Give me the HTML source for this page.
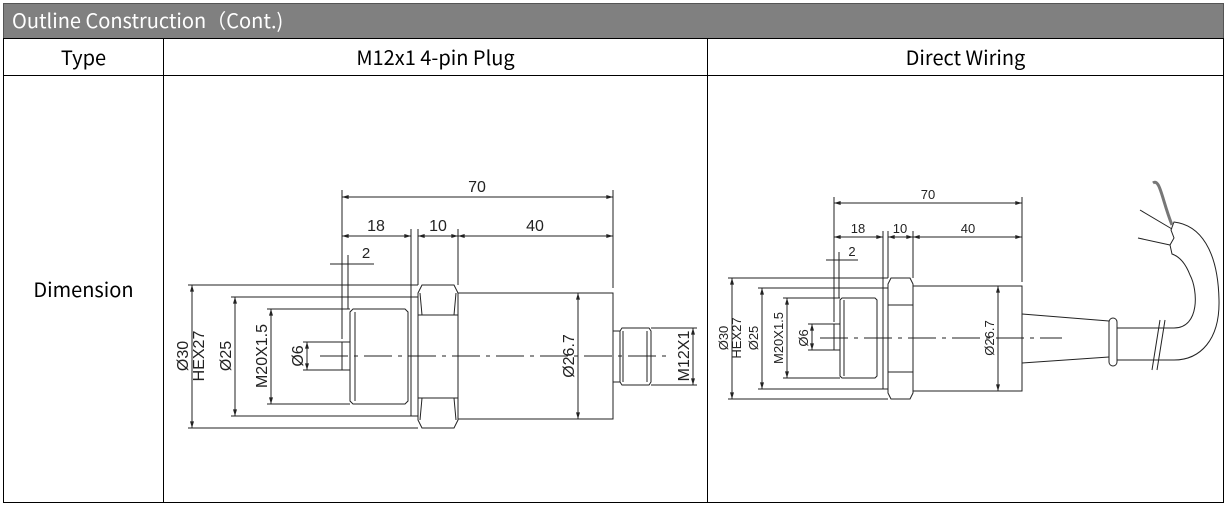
<!DOCTYPE html>
<html><head><meta charset="utf-8"><style>
html,body{margin:0;padding:0;background:#fff;}
body{width:1227px;height:510px;position:relative;overflow:hidden;font-family:"Liberation Sans","Noto Sans CJK SC",sans-serif;}
.t{position:absolute;font-family:"Noto Sans CJK SC","Liberation Sans",sans-serif;font-size:20px;color:#000;text-align:center;line-height:1;}
.d{marker-start:url(#a);marker-end:url(#a);}
</style></head><body>
<svg width="1227" height="510" style="position:absolute;left:0;top:0">
<defs><marker id="a" viewBox="0 0 10 6" refX="10" refY="3" markerWidth="7" markerHeight="4" orient="auto-start-reverse" markerUnits="userSpaceOnUse"><path d="M0 0 L10 3 L0 6 Z" fill="#222"/></marker></defs>
<rect x="3.5" y="3.5" width="1220" height="35" fill="#808080" stroke="#555"/>
<g stroke="#000" stroke-width="1" fill="none">
<rect x="3.5" y="38.5" width="1220" height="464"/>
<line x1="3" y1="75.5" x2="1224" y2="75.5"/>
<line x1="163.5" y1="39" x2="163.5" y2="502"/>
<line x1="707.5" y1="39" x2="707.5" y2="502"/>
</g>
<!-- LEFT DRAWING -->
<g stroke="#222" stroke-width="1" fill="none">
<line class="d" x1="342" y1="197" x2="613" y2="197"/>
<line x1="342" y1="190" x2="342" y2="339"/>
<line x1="613" y1="190" x2="613" y2="288"/>
<line class="d" x1="342" y1="236" x2="411" y2="236"/>
<line class="d" x1="418" y1="236" x2="458" y2="236"/>
<line class="d" x1="458" y1="236" x2="613" y2="236"/>
<line x1="411" y1="229" x2="411" y2="297"/>
<line x1="418" y1="229" x2="418" y2="285"/>
<line x1="458" y1="229" x2="458" y2="285"/>
<line x1="330" y1="264" x2="374" y2="264"/>
<line x1="348" y1="255" x2="348" y2="309"/>
<path d="M422 285 L454 285 L458 293 L458 420 L454 428 L422 428 L418 420 L418 293 Z"/>
<line x1="418" y1="315" x2="458" y2="315"/><line x1="418" y1="398" x2="458" y2="398"/>
<path d="M420 293 L422 315 M456 293 L454 315 M420 420 L422 398 M456 420 L454 398"/>
<rect x="411" y="297" width="7" height="119"/>
<path d="M353 309 L405 309 L408 312 L408 401 L405 404 L353 404 L350 401 L350 312 Z"/>
<line x1="355" y1="312" x2="355" y2="401"/>
<rect x="342" y="342" width="8" height="28"/>
<rect x="458" y="293" width="155" height="126"/>
<rect x="613" y="331" width="7" height="51"/>
<path d="M622 328 L649 328 L651 331 L651 382 L649 385 L622 385 L620 382 L620 331 Z"/>
<line x1="623" y1="331" x2="623" y2="382"/><line x1="647" y1="331" x2="647" y2="382"/>
<line x1="320" y1="356" x2="672" y2="356" stroke-dasharray="28,6,4,6"/>
<line x1="188" y1="285" x2="418" y2="285"/><line x1="188" y1="428" x2="418" y2="428"/>
<line class="d" x1="192" y1="285" x2="192" y2="428"/>
<line x1="231" y1="297" x2="411" y2="297"/><line x1="231" y1="416" x2="411" y2="416"/>
<line class="d" x1="235" y1="297" x2="235" y2="416"/>
<line x1="267" y1="309" x2="350" y2="309"/><line x1="267" y1="404" x2="350" y2="404"/>
<line class="d" x1="271" y1="309" x2="271" y2="404"/>
<line x1="303" y1="342" x2="342" y2="342"/><line x1="303" y1="370" x2="342" y2="370"/>
<line class="d" x1="307" y1="342" x2="307" y2="370"/>
<line class="d" x1="578" y1="293" x2="578" y2="419"/>
<line x1="651" y1="328" x2="697" y2="328"/><line x1="651" y1="385" x2="697" y2="385"/>
<line class="d" x1="693" y1="328" x2="693" y2="385"/>
</g>
<g font-family="Liberation Sans,sans-serif" font-size="16" fill="#222" text-anchor="middle">
<text x="477" y="192">70</text><text x="376" y="231">18</text><text x="438" y="231">10</text><text x="535" y="231">40</text>
<text x="366" y="258" font-size="15">2</text>
<text transform="translate(188,356) rotate(-90)">Ø30</text>
<text transform="translate(204,356) rotate(-90)">HEX27</text>
<text transform="translate(231,356) rotate(-90)">Ø25</text>
<text transform="translate(267,356) rotate(-90)">M20X1.5</text>
<text transform="translate(303,356) rotate(-90)">Ø6</text>
<text transform="translate(574,356) rotate(-90)">Ø26.7</text>
<text transform="translate(689,356) rotate(-90)">M12X1</text>
</g>
<!-- RIGHT DRAWING -->
<g stroke="#222" stroke-width="1" fill="none">
<line class="d" x1="834" y1="203" x2="1022" y2="203"/>
<line x1="834" y1="197" x2="834" y2="322"/>
<line x1="1022" y1="197" x2="1022" y2="282"/>
<line class="d" x1="834" y1="237" x2="883" y2="237"/>
<line class="d" x1="888" y1="237" x2="913" y2="237"/>
<line class="d" x1="913" y1="237" x2="1022" y2="237"/>
<line x1="883" y1="231" x2="883" y2="288"/>
<line x1="888" y1="231" x2="888" y2="278"/>
<line x1="913" y1="231" x2="913" y2="278"/>
<line x1="826" y1="260" x2="858" y2="260"/>
<line x1="839" y1="252" x2="839" y2="298"/>
<path d="M891 278 L910 278 L913 284 L913 393 L910 399 L891 399 L888 393 L888 284 Z"/>
<line x1="888" y1="305" x2="913" y2="305"/><line x1="888" y1="372" x2="913" y2="372"/>
<rect x="883" y="288" width="5" height="101"/>
<path d="M842 298 L875 298 L877 300 L877 376 L875 378 L842 378 L840 376 L840 300 Z"/>
<line x1="844" y1="300" x2="844" y2="376"/>
<rect x="834" y="324" width="6" height="26"/>
<rect x="913" y="286" width="109" height="105"/>
<path d="M1022 314 L1109 321 M1022 363 L1109 357"/>
<rect x="1109" y="318" width="8" height="48" rx="4"/>
<path d="M1117 328 L1174 328 C1200 328 1198 290 1190 275 C1185 262 1178 256 1172 254 L1170 245 L1174 238 L1171 230 L1174 222 C1200 225 1218 250 1219 300 C1220 340 1200 360 1174 360 L1117 360"/>
<path d="M1165 320 L1157 370 M1160 320 L1152 370"/>
<path d="M1140 210 L1172 229 M1138 238 L1170 245"/>
<path d="M1153 183 C1160 178 1162 200 1172 225" stroke="#777" stroke-width="3"/>
<line x1="820" y1="338" x2="1062" y2="338" stroke-dasharray="28,6,4,6"/>
<line x1="728" y1="278" x2="888" y2="278"/><line x1="728" y1="399" x2="888" y2="399"/>
<line class="d" x1="732" y1="278" x2="732" y2="399"/>
<line x1="758" y1="288" x2="883" y2="288"/><line x1="758" y1="389" x2="883" y2="389"/>
<line class="d" x1="762" y1="288" x2="762" y2="389"/>
<line x1="783" y1="298" x2="840" y2="298"/><line x1="783" y1="378" x2="840" y2="378"/>
<line class="d" x1="787" y1="298" x2="787" y2="378"/>
<line x1="808" y1="324" x2="834" y2="324"/><line x1="808" y1="350" x2="834" y2="350"/>
<line class="d" x1="812" y1="324" x2="812" y2="350"/>
<line class="d" x1="998" y1="286" x2="998" y2="391"/>
</g>
<g font-family="Liberation Sans,sans-serif" font-size="13" fill="#222" text-anchor="middle">
<text x="928" y="199">70</text><text x="858" y="233">18</text><text x="900" y="233">10</text><text x="968" y="233">40</text>
<text x="852" y="256">2</text>
<text transform="translate(728,338) rotate(-90)">Ø30</text>
<text transform="translate(741,338) rotate(-90)">HEX27</text>
<text transform="translate(758,338) rotate(-90)">Ø25</text>
<text transform="translate(783,338) rotate(-90)">M20X1.5</text>
<text transform="translate(808,338) rotate(-90)">Ø6</text>
<text transform="translate(994,338) rotate(-90)">Ø26.7</text>
</g>
</svg>
<div class="t" style="left:12px;top:10px;color:#fff;text-align:left">Outline Construction（Cont.)</div>
<div class="t" style="left:4px;width:159px;top:47px">Type</div>
<div class="t" style="left:164px;width:543px;top:47px">M12x1 4-pin Plug</div>
<div class="t" style="left:708px;width:515px;top:47px">Direct Wiring</div>
<div class="t" style="left:4px;width:159px;top:279px">Dimension</div>
</body></html>
